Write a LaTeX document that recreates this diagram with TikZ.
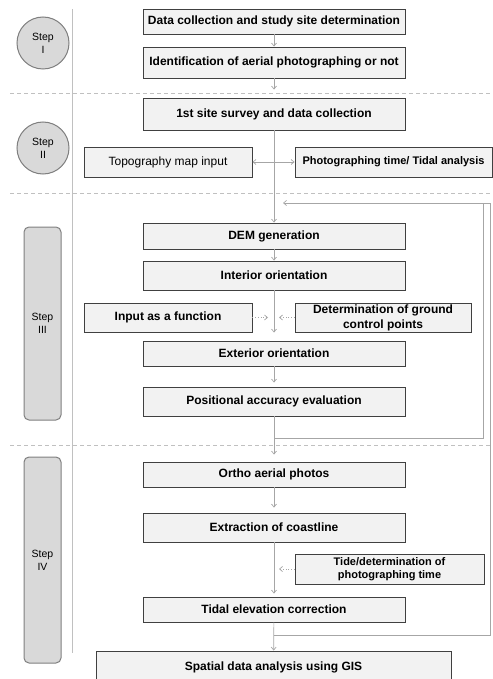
\documentclass[tikz,border=0pt]{standalone}
\usepackage{fontspec}
\setmainfont{Liberation Sans}
\usepackage{tikz}
\usetikzlibrary{arrows.meta}
\definecolor{boxfill}{HTML}{F2F2F2}
\definecolor{boxline}{HTML}{404040}
\definecolor{stepfill}{HTML}{D9D9D9}
\definecolor{stepline}{HTML}{7F7F7F}
\definecolor{flow}{HTML}{A6A6A6}
\definecolor{sepgray}{HTML}{C0C0C0}
\newcommand{\bft}{\bfseries\fontsize{12}{15}\selectfont}

\begin{document}
\begin{tikzpicture}[x=1pt,y=-1pt,
	>={Straight Barb[length=3pt,width=5pt]},
	box/.style={draw=boxline,fill=boxfill,line width=0.9pt,font=\bft,align=center,inner sep=0pt},
	mainbox/.style={box,minimum width=262pt},
	stepc/.style={circle,draw=stepline,fill=stepfill,line width=1pt,minimum size=52pt,inner sep=0pt,align=center,font=\fontsize{10.5}{13}\selectfont},
	stepr/.style={rectangle,rounded corners=5pt,draw=stepline,fill=stepfill,line width=1pt,minimum width=37pt,inner sep=0pt,align=center,font=\fontsize{10.5}{13}\selectfont},
	flowline/.style={draw=flow,line width=0.7pt},
	sepline/.style={draw=sepgray,line width=0.7pt,dash pattern=on 4pt off 3pt}]
				\useasboundingbox (0,0) rectangle (492,679);
				\foreach \y in {93,193,445} \draw[sepline] (10,\y) -- (492,\y);
				\draw[draw=sepgray,line width=0.7pt] (72,9) -- (72,653);
				\node[stepc] (s1) at (43,43) {Step\\I};
				\node[stepc] (s2) at (43,148) {Step\\II};
				\node[stepr,minimum height=193pt] (s3) at (42.5,323.5) {Step\\III};
				\node[stepr,minimum height=206pt] (s4) at (42.5,560) {Step\\IV};
				\node[mainbox,minimum height=25pt] (data) at (274,21.5) {Data collection and study site determination};
				\node[mainbox,minimum height=31pt] (ident) at (274,62.5) {Identification of aerial photographing or not};
				\node[mainbox,minimum height=32pt] (survey) at (274,114) {1st site survey and data collection};
				\node[box,minimum width=168pt,minimum height=30pt,font=\fontsize{12}{15}\selectfont] (topo) at (168,162) {Topography map input};
				\node[box,minimum width=197pt,minimum height=30pt,font=\bfseries\fontsize{11}{13}\selectfont] (photo) at (393.5,162) {Photographing time/ Tidal analysis};
				\node[mainbox,minimum height=26pt] (dem) at (274,236) {DEM generation};
				\node[mainbox,minimum height=29pt] (inter) at (274,275.5) {Interior orientation};
				\node[box,minimum width=168pt,minimum height=29pt] (input) at (168,317.5) {Input as a function};
				\node[box,minimum width=176pt,minimum height=29pt] (gcp) at (383,317.5) {Determination of ground\\control points};
				\node[mainbox,minimum height=25pt] (exter) at (274,353.5) {Exterior orientation};
				\node[mainbox,minimum height=29pt] (posit) at (274,401.5) {Positional accuracy evaluation};
				\node[mainbox,minimum height=25pt] (ortho) at (274,474.5) {Ortho aerial photos};
				\node[mainbox,minimum height=29pt] (coast) at (274,527.5) {Extraction of coastline};
				\node[box,minimum width=189pt,minimum height=30pt,font=\bfseries\fontsize{11}{13.5}\selectfont] (tide) at (389.5,569) {Tide/determination of\\photographing time};
				\node[mainbox,minimum height=25pt] (tidal) at (274,609.5) {Tidal elevation correction};
				\node[box,minimum width=355pt,minimum height=32pt] (gis) at (273.5,667) {Spatial data analysis using GIS};
				\coordinate (inA) at (268,317.5);
				\coordinate (inB) at (279,317.5);
				\coordinate (inC) at (279,569);
				\coordinate (loopA) at (274,438);
				\coordinate (loopB) at (274,635);
				\coordinate (fb) at (283,203);
				\draw[flowline,->] (data) -- (ident);
				\draw[flowline,->,shorten >=8pt] (ident) -- (survey);
				\draw[flowline,->] (survey) -- (dem);
				\draw[flowline,<->] (topo) -- (photo);
				\draw[flowline,->] (dem) -- (inter);
				\draw[flowline,->,shorten >=8pt] (inter) -- (exter);
				\draw[flowline,dotted,->] (input) -- (inA);
				\draw[flowline,dotted,->] (gcp) -- (inB);
				\draw[flowline,->,shorten >=4pt] (exter) -- (posit);
				\draw[flowline,->,shorten >=7pt] (posit) -- (ortho);
				\draw[flowline,->,shorten >=5pt] (ortho) -- (coast);
				\draw[flowline,->,shorten >=3pt] (coast) -- (tidal);
				\draw[flowline,dotted,->] (tide) -- (inC);
				\draw[flowline,->] (tidal) -- (gis);
				\draw[flowline,->] (loopA) -| (483,203) -- (fb);
				\draw[flowline] (loopB) -| (490,203) -- (483,203);
\end{tikzpicture}
\end{document}
